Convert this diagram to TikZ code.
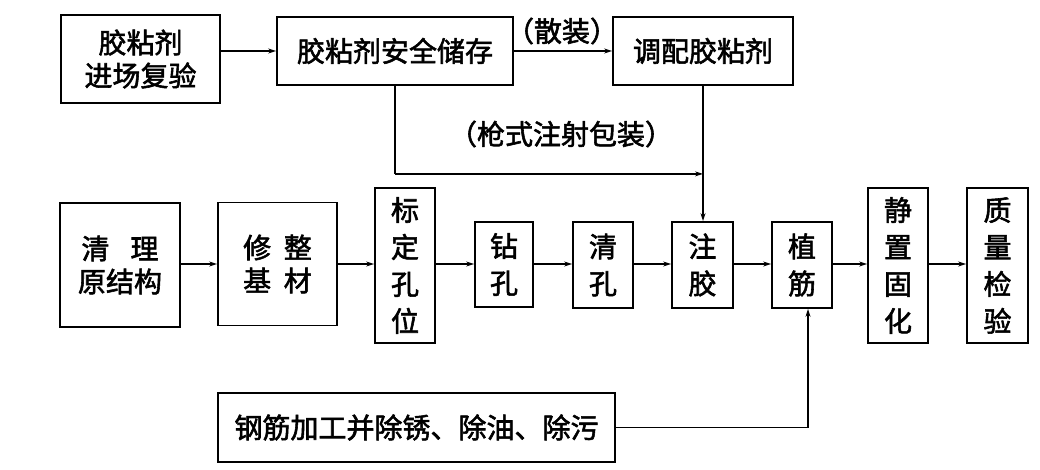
\documentclass[tikz,border=0pt]{standalone}
\usepackage{fontspec}
\setmainfont{Noto Sans CJK SC}[FakeBold=2]
\usetikzlibrary{arrows.meta}
\begin{document}
\begin{tikzpicture}[x=1pt,y=-1pt,
  box/.style={draw,line width=1.8pt,inner sep=0pt,align=center,
    font=\fontsize{28}{33}\selectfont},
  vbox/.style={box,font=\fontsize{28}{37}\selectfont},
  conn/.style={line width=1.3pt,-{Stealth[length=8pt,width=5pt]}},
  plain/.style={line width=1.3pt},
  lbl/.style={font=\fontsize{28}{33}\selectfont,inner sep=0pt}]
\useasboundingbox (0,0) rectangle (1040,470);
% top row
\node[box,minimum width=159pt,minimum height=88pt] (b1) at (140.5,59) {胶粘剂\\进场复验};
\node[box,minimum width=236pt,minimum height=68pt] (b2) at (395,51) {胶粘剂安全储存};
\node[box,minimum width=180pt,minimum height=68pt] (b3) at (703,51) {调配胶粘剂};
% main row
\node[box,minimum width=120pt,minimum height=124pt] (m1) at (120,265) {清\hspace{0.75em}理\\原结构};
\node[box,minimum width=119pt,minimum height=123pt] (m2) at (277.5,264) {修\hspace{0.45em}整\\基\hspace{0.45em}材};
\node[vbox,minimum width=60pt,minimum height=155pt] (m3) at (405,265.5) {标\\定\\孔\\位};
\node[vbox,minimum width=58pt,minimum height=85pt] (m4) at (504,264.5) {钻\\孔};
\node[vbox,minimum width=60pt,minimum height=86pt] (m5) at (603,265) {清\\孔};
\node[vbox,minimum width=61pt,minimum height=86pt] (m6) at (702.5,265) {注\\胶};
\node[vbox,minimum width=60pt,minimum height=86pt] (m7) at (802,265) {植\\筋};
\node[vbox,minimum width=60pt,minimum height=155pt] (m8) at (898,265.5) {静\\置\\固\\化};
\node[vbox,minimum width=61pt,minimum height=155pt] (m9) at (997.5,265.5) {质\\量\\检\\验};
% bottom
\node[box,minimum width=397pt,minimum height=69pt] (bot) at (416.5,427.5) {钢筋加工并除锈、除油、除污};
% labels
\node[lbl] (l1) at (562,31) {（散装）};
\node[lbl] (l2) at (561,134) {（枪式注射包装）};
% coordinates
\coordinate (k1) at ([yshift=-88pt]b2.south);
\coordinate (k2) at (b3.south |- k1);
\coordinate (k3) at ([xshift=6pt]m7.south);
% connectors
\draw[conn] (b1.east |- b2.west) -- (b2.west);
\draw[conn] (b2.east) -- (b3.west);
\draw[plain] (b2.south) -- (k1);
\draw[conn] (k1) -- (k2);
\draw[conn] (b3.south) -- (b3.south |- m6.north);
\draw[conn] (m1.east |- 0,264) -- (m2.west |- 0,264);
\draw[conn] (m2.east |- 0,264) -- (m3.west |- 0,264);
\draw[conn] (m3.east |- 0,264) -- (m4.west |- 0,264);
\draw[conn] (m4.east |- 0,264) -- (m5.west |- 0,264);
\draw[conn] (m5.east |- 0,264) -- (m6.west |- 0,264);
\draw[conn] (m6.east |- 0,264) -- (m7.west |- 0,264);
\draw[conn] (m7.east |- 0,264) -- (m8.west |- 0,264);
\draw[conn] (m8.east |- 0,264) -- (m9.west |- 0,264);
\draw[conn] (bot.east) -| (k3);
\end{tikzpicture}
\end{document}
